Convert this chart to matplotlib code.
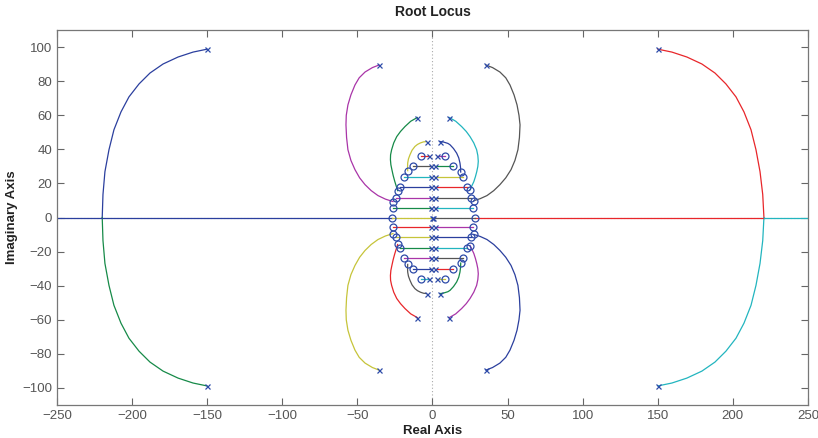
import matplotlib
matplotlib.use("Agg")
import matplotlib.pyplot as plt
import numpy as np

plt.rcParams['font.family'] = ['Liberation Sans Narrow', 'Liberation Sans', 'DejaVu Sans']

# ---------------- data (upper half-plane; lower half is the complex conjugate) ----------------
# outer branch from the far-left pole
far_left_re = [-150.1, -159.4, -169.4, -179.4, -188.1, -195.4, -202.1, -207.4, -212.1, -215.4, -218.1, -219.4, -219.9]
far_left_im = [98.8, 97.1, 94.2, 90.1, 84.8, 78.4, 70.8, 62.0, 51.5, 39.8, 26.9, 13.5, 0.0]
# outer branch from the far-right pole
far_right_re = [150.1, 159.4, 169.4, 179.4, 188.1, 195.4, 202.1, 207.4, 212.1, 215.4, 218.1, 219.9, 220.7]
far_right_im = [98.8, 97.1, 94.2, 90.1, 84.8, 78.4, 70.8, 62.0, 51.5, 39.8, 26.9, 13.5, 0.0]
# real-axis segments
axis_left_re = [-250.0, -26.8]
axis_right_in_re = [220.7, 28.0]
axis_right_out_re = [220.7, 250.0]
# mid branches (poles near +-35 +-89j)
mid_left_re = [-35.6, -40.0, -44.9, -48.8, -51.6, -54.3, -56.3, -57.4, -57.6, -57.2, -56.3, -54.3, -51.6, -48.5, -44.9, -40.8, -36.3, -31.3, -26.3]
mid_left_im = [89.5, 88.0, 85.4, 82.0, 77.8, 72.0, 66.1, 60.0, 54.4, 47.0, 39.8, 33.5, 28.1, 23.3, 19.3, 15.8, 12.9, 10.8, 9.4]
mid_right_re = [35.6, 40.0, 44.9, 48.8, 51.6, 54.3, 56.3, 57.6, 58.3, 57.9, 56.9, 54.9, 52.3, 48.8, 44.9, 40.8, 36.3, 31.8, 27.6]
mid_right_im = [89.5, 88.0, 85.4, 82.0, 77.8, 72.0, 66.1, 60.0, 54.4, 47.0, 39.8, 33.5, 28.1, 23.3, 19.3, 15.8, 12.9, 11.1, 9.9]
# inner branches (poles near +-11 +-59j)
inner_left_re = [-10.1, -14.5, -18.3, -21.3, -23.8, -25.8, -27.2, -27.9, -28.0, -27.7, -27.0, -26.2, -25.2, -23.2]
inner_left_im = [58.7, 56.5, 53.4, 50.5, 47.5, 43.8, 39.8, 36.8, 34.0, 31.0, 28.0, 24.8, 21.5, 15.8]
inner_right_re = [11.2, 15.5, 19.4, 22.5, 25.0, 27.5, 29.4, 30.2, 30.5, 30.2, 29.5, 28.6, 27.5, 25.0]
inner_right_im = [58.7, 56.5, 53.4, 50.5, 47.5, 43.8, 39.8, 36.4, 33.0, 30.0, 27.0, 24.0, 21.0, 16.4]
# near branches (poles near +-5 +-44j)
near_left_re = [-3.9, -6.0, -8.0, -10.0, -11.7, -13.6, -15.0, -16.0, -16.5, -16.6, -16.5]
near_left_im = [44.6, 44.4, 43.8, 42.9, 41.7, 39.5, 36.8, 34.4, 32.0, 29.7, 27.5]
near_right_re = [5.0, 7.0, 8.5, 10.3, 11.7, 14.0, 16.1, 17.5, 18.3, 18.7, 18.8]
near_right_im = [44.6, 44.4, 44.0, 43.5, 42.7, 40.5, 37.8, 35.0, 32.0, 29.3, 26.7]
# horizontal rows: pole near the axis -> zero on the oval
row_im = [36.0, 30.0, 24.0, 17.8, 11.7, 5.5]
row_left_pole = [-2.2, -1.0, -1.0, -1.0, -1.0, -1.0]
row_left_zero = [-7.8, -12.8, -18.8, -21.8, -24.2, -26.1]
row_right_pole = [3.0, 1.8, 1.8, 1.8, 1.8, 1.8]
row_right_zero = [8.5, 13.9, 20.5, 23.2, 25.5, 27.3]
origin_poles_re = [-0.4, 0.4]
real_zeros_re = [-26.8, 28.0]
# extra zeros where the curved branches end (upper half)
extra_zero_re = [-16.5, -23.2, -26.3, 18.8, 25.0, 27.6]
extra_zero_im = [27.5, 15.8, 9.4, 26.7, 16.4, 9.9]
# outer poles (upper half)
outer_pole_re = [-150.1, 150.1, -35.6, 35.6, -10.1, 11.2, -3.9, 5.0]
outer_pole_im = [98.8, 98.8, 89.5, 89.5, 58.7, 58.7, 44.6, 44.6]

# colours (MATLAB-like)
B = '#2b3f9e'; G = '#168a48'; R = '#e8262a'; C = '#22b5bf'
M = '#a935a8'; Y = '#c6c43a'; K = '#555555'
MARK = '#2d4aa8'

row_left_up_col = [R, K, C, B, M, G]
row_right_up_col = [M, G, Y, R, K, C]
row_left_dn_col = [C, B, M, G, Y, R]
row_right_dn_col = [Y, R, K, C, B, M]

fig = plt.figure(figsize=(8.18, 4.38), dpi=100)
ax = fig.add_axes([0.0697, 0.0753, 0.918, 0.856])

lw = 0.9
def curve(re, im, col_up, col_dn):
    re = np.asarray(re); im = np.asarray(im)
    ax.plot(re, im, color=col_up, lw=lw, zorder=2, solid_joinstyle='round')
    ax.plot(re, -im, color=col_dn, lw=lw, zorder=2, solid_joinstyle='round')

# dotted axis lines
ax.axvline(0, color='#aaaaaa', lw=0.8, ls=(0, (1, 2)), zorder=1)
ax.axhline(0, color='#aaaaaa', lw=0.8, ls=(0, (1, 2)), zorder=1)

curve(far_left_re, far_left_im, B, G)
curve(far_right_re, far_right_im, R, C)
ax.plot(axis_left_re, [0, 0], color=B, lw=lw, zorder=2)
ax.plot(axis_right_in_re, [0, 0], color=R, lw=lw, zorder=2)
ax.plot(axis_right_out_re, [0, 0], color=C, lw=lw, zorder=2)
curve(mid_left_re, mid_left_im, M, Y)
curve(mid_right_re, mid_right_im, K, B)
curve(inner_left_re, inner_left_im, G, R)
curve(inner_right_re, inner_right_im, C, M)
curve(near_left_re, near_left_im, Y, K)
curve(near_right_re, near_right_im, B, G)

for i, y in enumerate(row_im):
    ax.plot([row_left_pole[i], row_left_zero[i]], [y, y], color=row_left_up_col[i], lw=lw, zorder=2)
    ax.plot([row_right_pole[i], row_right_zero[i]], [y, y], color=row_right_up_col[i], lw=lw, zorder=2)
    ax.plot([row_left_pole[i], row_left_zero[i]], [-y, -y], color=row_left_dn_col[i], lw=lw, zorder=2)
    ax.plot([row_right_pole[i], row_right_zero[i]], [-y, -y], color=row_right_dn_col[i], lw=lw, zorder=2)
# row on the real axis
ax.plot([origin_poles_re[0], real_zeros_re[0]], [0, 0], color=Y, lw=lw, zorder=2)
ax.plot([origin_poles_re[1], real_zeros_re[1]], [0, 0], color=K, lw=lw, zorder=2)

# poles (x) and zeros (o)
pole_re = list(outer_pole_re) + list(row_left_pole) + list(row_right_pole)
pole_im = list(outer_pole_im) + list(row_im) + list(row_im)
pr = np.array(pole_re); pi_ = np.array(pole_im)
ax.plot(np.concatenate([pr, pr, origin_poles_re]), np.concatenate([pi_, -pi_, [0, 0]]),
        ls='none', marker='x', ms=3.6, mew=0.9, color=MARK, zorder=4)
zr = np.array(list(row_left_zero) + list(row_right_zero) + list(extra_zero_re))
zi = np.array(list(row_im) + list(row_im) + list(extra_zero_im))
ax.plot(np.concatenate([zr, zr, real_zeros_re]), np.concatenate([zi, -zi, [0, 0]]),
        ls='none', marker='o', ms=5, mew=0.9, mfc='none', color=MARK, zorder=4)

ax.set_xlim(-250, 250)
ax.set_ylim(-110, 110)
ax.set_xticks(np.arange(-250, 251, 50))
ax.set_yticks(np.arange(-100, 101, 20))
ax.tick_params(direction='in', top=True, right=True, length=5, width=0.8,
               colors='#666666', labelsize=9.5, labelcolor='#555555')
for s in ax.spines.values():
    s.set_color('#777777'); s.set_linewidth(0.9)

ax.set_title('Root Locus', fontsize=10, fontweight='bold', color='#222222', pad=10)
ax.set_xlabel('Real Axis', fontsize=9.5, fontweight='bold', color='#222222', labelpad=2)
ax.set_ylabel('Imaginary Axis', fontsize=9.5, fontweight='bold', color='#222222', labelpad=3)

fig.savefig('out.png', dpi=100)
